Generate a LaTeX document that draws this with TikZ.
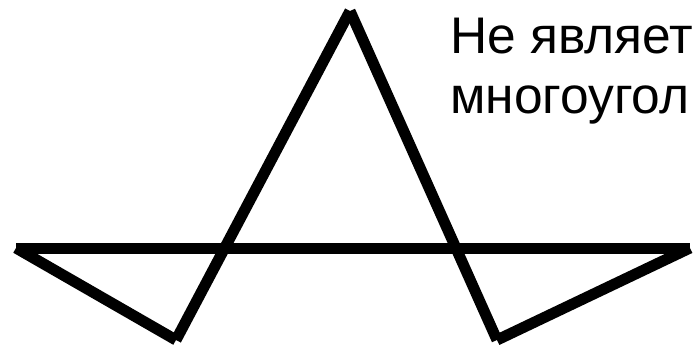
\documentclass[tikz,border=0pt]{standalone}
\usepackage{fontspec}
\setmainfont{Liberation Sans}
\tikzset{
  edge/.style={line width=11pt, line cap=butt, draw=black},
  lbl/.style={anchor=base west, inner sep=0pt, font=\fontsize{51.5}{60}\selectfont}
}
\begin{document}
\begin{tikzpicture}[x=1pt,y=-1pt]
\useasboundingbox (0,0) rectangle (695,351);
\clip (0,0) rectangle (695,351);
\coordinate (A) at (16,248);
\coordinate (B) at (690,248);
\coordinate (C) at (176,340);
\coordinate (D) at (350,11);
\coordinate (E) at (497,340);
\draw[edge] (A) -- (B);
\draw[edge] (A) -- (C);
\draw[edge] (C) -- (D);
\draw[edge] (D) -- (E);
\draw[edge] (E) -- (B);
\node[lbl] (t1) at (450,53) {Не являет};
\node[lbl] (t2) at (450,113) {многоугол};
\end{tikzpicture}
\end{document}
